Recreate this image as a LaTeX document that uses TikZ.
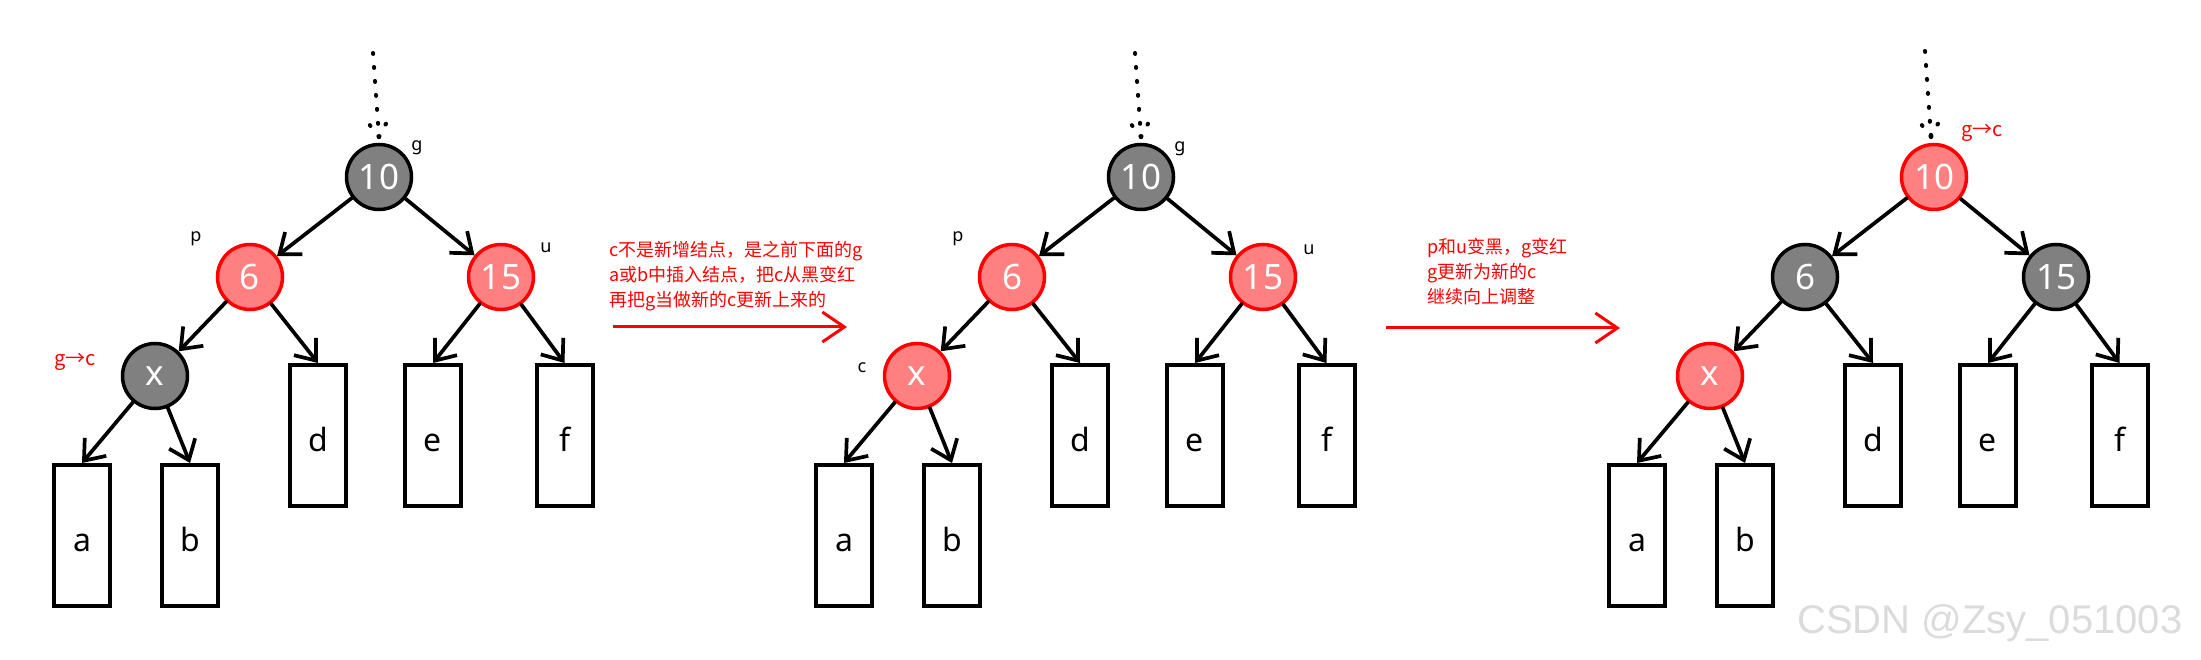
\documentclass[tikz,border=0pt]{standalone}
\usepackage{fontspec}
\setmainfont{Noto Sans}
\newfontfamily\cjk{Noto Sans CJK SC}
\newfontfamily\wmfont{Liberation Sans}
\usetikzlibrary{arrows.meta}

\definecolor{nodegray}{RGB}{128,128,128}
\definecolor{nodered}{RGB}{255,128,128}

\tikzset{
  blacknode/.style={circle, draw=black, fill=nodegray, line width=3.5pt, minimum size=65pt, inner sep=0pt, text=white, font=\fontsize{35}{35}\selectfont},
  rednode/.style={blacknode, draw=red, fill=nodered},
  leaf/.style={rectangle, draw=black, line width=4pt, minimum width=56pt, minimum height=141pt, inner sep=0pt, text height=31pt, text depth=0pt, font=\fontsize{32}{32}\selectfont},
  treeedge/.style={line width=3.7pt, line cap=round, -{Straight Barb[length=18pt, width=28pt, line width=3.7pt]}},
  dotline/.style={line width=4pt, line cap=round, dash pattern=on 1pt off 13pt},
  tag/.style={inner sep=0pt, font=\fontsize{18}{18}\selectfont},
  redtag/.style={inner sep=0pt, text=red, font=\cjk\fontsize{20}{20}\selectfont},
  note/.style={inner sep=0pt, text=red, align=left, anchor=north west, font=\cjk\fontsize{18}{25}\selectfont},
  redarrow/.style={line width=3pt, red, -{Straight Barb[length=22pt, width=30pt, line width=3pt]}},
}

\begin{document}
\begin{tikzpicture}[x=1pt, y=-1pt]

\useasboundingbox (0, 0) rectangle (2201, 660);

%% 1st tree: c is red under red p

\begin{scope}
% incoming dotted link
\coordinate (topA) at (373, 53);
\coordinate (tipA) at (379, 137);
\draw [dotline] (topA) -- (tipA);
\draw [dotline] (tipA) -- ++(-17, -22);
\draw [dotline] (tipA) -- ++(11, -21);

% nodes
\node [blacknode] (n10A) at (379, 177) {10};
\node [rednode] (n6A) at (250, 277) {6};
\node [rednode] (n15A) at (501, 277) {15};
\node [blacknode] (nxA) at (155, 376) {x};

% subtrees
\node [leaf] (aA) at (82, 535.5) {a};
\node [leaf] (bA) at (190, 535.5) {b};
\node [leaf] (dA) at (318, 435.5) {d};
\node [leaf] (eA) at (433, 435.5) {e};
\node [leaf] (fA) at (564.5, 435.5) {f};

% tags
\node [tag] (gA) at (417, 148) {g};
\node [tag] (pA) at (196, 239) {p};
\node [tag] (uA) at (546, 248) {u};
\node [redtag] (gcA) at (75, 362) {g→c};

% links
\draw [treeedge] (n10A) -- (n6A);
\draw [treeedge] (n10A) -- (n15A);
\draw [treeedge] (n6A) -- (nxA);
\draw [treeedge] (n6A) -- (dA.north);
\draw [treeedge] (n15A) -- (eA.north);
\draw [treeedge] (n15A) -- (fA.north);
\draw [treeedge] (nxA) -- (aA.north);
\draw [treeedge] (nxA) -- (bA.north);
\end{scope}

% 1st step
\node [note] (noteA) at (609, 241) {c不是新增结点，是之前下面的g\\a或b中插入结点，把c从黑变红\\再把g当做新的c更新上来的};
\coordinate (arrA1) at (613, 327);
\coordinate (arrA2) at (847, 327);
\draw [redarrow] (arrA1) -- (arrA2);

%% 2nd tree: x turned red

\begin{scope}[xshift=762pt]
% incoming dotted link
\coordinate (topB) at (373, 53);
\coordinate (tipB) at (379, 137);
\draw [dotline] (topB) -- (tipB);
\draw [dotline] (tipB) -- ++(-17, -22);
\draw [dotline] (tipB) -- ++(11, -21);

% nodes
\node [blacknode] (n10B) at (379, 177) {10};
\node [rednode] (n6B) at (250, 277) {6};
\node [rednode] (n15B) at (501, 277) {15};
\node [rednode] (nxB) at (155, 376) {x};

% subtrees
\node [leaf] (aB) at (82, 535.5) {a};
\node [leaf] (bB) at (190, 535.5) {b};
\node [leaf] (dB) at (318, 435.5) {d};
\node [leaf] (eB) at (433, 435.5) {e};
\node [leaf] (fB) at (564.5, 435.5) {f};

% tags
\node [tag] (gB) at (418, 149) {g};
\node [tag] (pB) at (196, 239) {p};
\node [tag] (uB) at (547, 250) {u};
\node [tag] (cB) at (100, 368) {c};

% links
\draw [treeedge] (n10B) -- (n6B);
\draw [treeedge] (n10B) -- (n15B);
\draw [treeedge] (n6B) -- (nxB);
\draw [treeedge] (n6B) -- (dB.north);
\draw [treeedge] (n15B) -- (eB.north);
\draw [treeedge] (n15B) -- (fB.north);
\draw [treeedge] (nxB) -- (aB.north);
\draw [treeedge] (nxB) -- (bB.north);
\end{scope}

% 2nd step
\node [note] (noteB) at (1427, 238) {p和u变黑，g变红\\g更新为新的c\\继续向上调整};
\coordinate (arrB1) at (1386, 328);
\coordinate (arrB2) at (1620, 328);
\draw [redarrow] (arrB1) -- (arrB2);

%% 3rd tree: g becomes the new c

\begin{scope}[xshift=1555pt]
% incoming dotted link
\coordinate (topC) at (370, 51);
\coordinate (tipC) at (376, 137);
\draw [dotline] (topC) -- (tipC);
\draw [dotline] (tipC) -- ++(-17, -22);
\draw [dotline] (tipC) -- ++(11, -21);

% nodes
\node [rednode] (n10C) at (379, 177) {10};
\node [blacknode] (n6C) at (250, 277) {6};
\node [blacknode] (n15C) at (501, 277) {15};
\node [rednode] (nxC) at (155, 376) {x};

% subtrees
\node [leaf] (aC) at (82, 535.5) {a};
\node [leaf] (bC) at (190, 535.5) {b};
\node [leaf] (dC) at (318, 435.5) {d};
\node [leaf] (eC) at (433, 435.5) {e};
\node [leaf] (fC) at (564.5, 435.5) {f};

% tags
\node [redtag] (gcC) at (427, 133) {g→c};

% links
\draw [treeedge] (n10C) -- (n6C);
\draw [treeedge] (n10C) -- (n15C);
\draw [treeedge] (n6C) -- (nxC);
\draw [treeedge] (n6C) -- (dC.north);
\draw [treeedge] (n15C) -- (eC.north);
\draw [treeedge] (n15C) -- (fC.north);
\draw [treeedge] (nxC) -- (aC.north);
\draw [treeedge] (nxC) -- (bC.north);
\end{scope}

% watermark
\node [anchor=west, inner sep=0pt, text=black!14, font=\wmfont\fontsize{40}{40}\selectfont] (mark) at (1797, 623) {CSDN @Zsy\_051003};

\end{tikzpicture}
\end{document}
